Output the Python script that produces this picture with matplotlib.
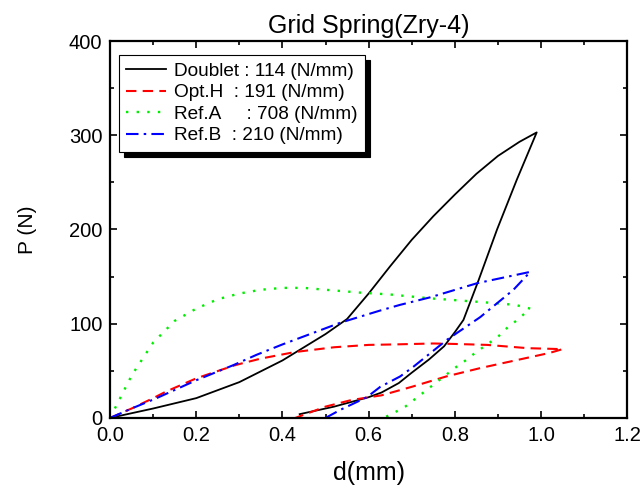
import matplotlib
matplotlib.use("Agg")
import matplotlib.pyplot as plt
from matplotlib.ticker import MultipleLocator
from matplotlib.patches import Shadow

plt.rcParams['font.family'] = ['Liberation Sans', 'DejaVu Sans']

# Doublet : loading / unloading
doublet_load_x = [0, 0.05, 0.1, 0.2, 0.3, 0.4, 0.45, 0.5, 0.55, 0.6, 0.65, 0.7, 0.75, 0.8, 0.85, 0.9, 0.95, 0.99]
doublet_load_y = [0, 5, 10, 21, 38, 61, 75, 89, 105, 132, 161, 189, 214, 237, 259, 278, 293, 303]
doublet_unload_x = [0.99, 0.944, 0.898, 0.855, 0.82, 0.80, 0.775, 0.74, 0.70, 0.67, 0.63, 0.60, 0.56, 0.52, 0.48, 0.44]
doublet_unload_y = [303, 253, 200, 146, 104, 91, 76, 62, 48, 37, 27, 22, 17, 12, 8, 4]

# Opt.H
opth_load_x = [0, 0.05, 0.1, 0.13, 0.2, 0.29, 0.35, 0.43, 0.52, 0.6, 0.66, 0.75, 0.8, 0.875, 0.97, 1.05]
opth_load_y = [0, 10, 21, 28, 42, 56, 63, 70, 75, 77.5, 78, 79, 78.5, 77.5, 74, 73]
opth_unload_x = [1.05, 1.02, 0.94, 0.86, 0.78, 0.70, 0.63, 0.56, 0.50, 0.43]
opth_unload_y = [73, 69, 61, 53, 44, 33, 24, 19, 12, 0]

# Ref.A
refa_load_x = [0, 0.02, 0.05, 0.1, 0.15, 0.2, 0.25, 0.3, 0.35, 0.4, 0.45, 0.5, 0.58, 0.65, 0.74, 0.86, 0.94, 0.975]
refa_load_y = [0, 18, 45, 80, 103, 116, 126, 132, 136, 138, 138, 136, 133, 131, 127, 123, 120, 116]
refa_unload_x = [0.975, 0.945, 0.92, 0.90, 0.85, 0.825, 0.80, 0.73, 0.685, 0.657, 0.635]
refa_unload_y = [116, 104, 95, 86, 70, 61, 53, 28, 12, 5, 0]

# Ref.B
refb_load_x = [0, 0.05, 0.108, 0.2, 0.286, 0.34, 0.40, 0.47, 0.534, 0.627, 0.673, 0.743, 0.852, 0.975]
refb_load_y = [0, 10, 21, 40, 56, 67, 78, 90, 101, 114, 120, 128, 143, 155]
refb_unload_x = [0.975, 0.936, 0.859, 0.782, 0.703, 0.673, 0.627, 0.596, 0.534, 0.5]
refb_unload_y = [155, 136, 107, 83, 54, 44, 33, 22, 8.5, 0]

labels = ["Doublet : 114 (N/mm)", "Opt.H  : 191 (N/mm)",
          "Ref.A     : 708 (N/mm)", "Ref.B  : 210 (N/mm)"]

fig = plt.figure(figsize=(6.4, 4.94), dpi=100)
ax = fig.add_axes([0.172, 0.154, 0.808, 0.763])

lw = 1.3
ax.plot(doublet_load_x + doublet_unload_x, doublet_load_y + doublet_unload_y,
        color='k', ls='-', lw=lw, label=labels[0])
ax.plot(opth_load_x + opth_unload_x, opth_load_y + opth_unload_y,
        color='red', ls=(0, (5, 3)), lw=lw + 0.2, label=labels[1])
ax.plot(refa_load_x + refa_unload_x, refa_load_y + refa_unload_y,
        color='#00ee00', ls=(0, (1, 3.5)), lw=lw + 0.4, label=labels[2])
ax.plot(refb_load_x + refb_unload_x, refb_load_y + refb_unload_y,
        color='blue', ls=(0, (6, 2.5, 1.2, 2.5)), lw=lw + 0.2, label=labels[3])

ax.set_xlim(0, 1.2)
ax.set_ylim(0, 400)
ax.xaxis.set_major_locator(MultipleLocator(0.2))
ax.xaxis.set_minor_locator(MultipleLocator(0.1))
ax.yaxis.set_major_locator(MultipleLocator(100))
ax.yaxis.set_minor_locator(MultipleLocator(50))
ax.xaxis.set_major_formatter(plt.FormatStrFormatter('%.1f'))
ax.tick_params(which='both', direction='in', top=True, right=True, labelsize=14.5, width=1.2)
ax.tick_params(which='major', length=5)
ax.tick_params(which='minor', length=3)
ax.tick_params(axis='x', pad=6)
ax.tick_params(axis='y', pad=5.5)
for s in ax.spines.values():
    s.set_linewidth(1.6)

ax.set_title("Grid Spring(Zry-4)", fontsize=18, pad=6)
ax.set_xlabel("d(mm)", fontsize=18, labelpad=11)
ax.set_ylabel("P (N)", fontsize=15, labelpad=23)

leg = ax.legend(loc='upper left', fontsize=13.7, frameon=True, fancybox=False,
                handlelength=2.1, labelspacing=0.22, borderpad=0.4,
                handletextpad=0.4, borderaxespad=0,
                bbox_to_anchor=(0.017, 0.963))
leg.get_frame().set_edgecolor('k')
leg.get_frame().set_linewidth(0.8)
leg.get_frame().set_alpha(1)

# heavier black drop shadow like the original
fig.canvas.draw()
sh = Shadow(leg.legendPatch, 3.5, -3.5, facecolor='k', edgecolor='k', alpha=1, zorder=4.9)
ax.add_artist(sh)

fig.savefig("out.png", dpi=100)
